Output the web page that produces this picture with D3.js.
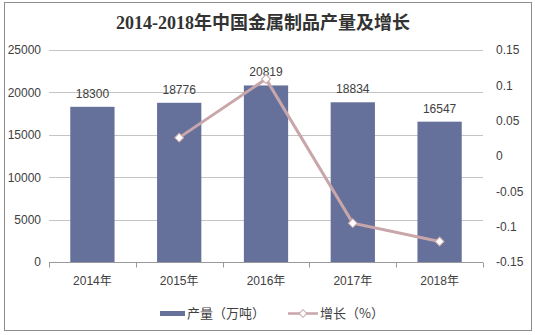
<!DOCTYPE html>
<html><head><meta charset="utf-8">
<script src="https://cdn.jsdelivr.net/npm/d3@7"></script>
<style>body{margin:0;background:#fff}svg{display:block}</style>
</head><body>
<svg id="c" width="535" height="335"></svg>
<script>
const categories = ["2014年","2015年","2016年","2017年","2018年"];
const production = [18300,18776,20819,18834,16547];
const growth = [null,0.026,0.109,-0.095,-0.121];
const leftTicks = [0,5000,10000,15000,20000,25000];
const rightTicks = [-0.15,-0.1,-0.05,0,0.05,0.1,0.15];
const title = "2014-2018年中国金属制品产量及增长";
const legendLabels = ["产量（万吨）","增长（%）"];

const svg = d3.select("#c");
const L=49,R=483,T=50,B=262;
const font = "'Liberation Sans', Arial, 'Noto Sans CJK SC', sans-serif";
const barColor="#65719b", lineColor="#c9a6aa", gridColor="#c4c4c4", txt="#404040";

svg.append("rect").attr("x",4.5).attr("y",2.5).attr("width",527).attr("height",328)
  .attr("fill","#fff").attr("stroke","#8c8c8c").attr("stroke-width",1);

svg.append("text").attr("x",263).attr("y",29).attr("text-anchor","middle")
  .attr("font-family","'Liberation Serif','DejaVu Serif','Noto Sans CJK SC',serif")
  .attr("font-weight","bold").attr("font-size",18).attr("fill","#333").text(title);

const x = d3.scaleBand().domain(categories).range([L,R]).paddingInner(0.49).paddingOuter(0.245);
const xb = d3.scaleBand().domain(categories).range([L,R]);
const y = d3.scaleLinear().domain([0,25000]).range([B,T]);
const y2 = d3.scaleLinear().domain([-0.15,0.15]).range([B,T]);

// grid
svg.append("g").selectAll("line").data(leftTicks.filter(d=>d>0)).join("line")
  .attr("x1",L).attr("x2",R).attr("y1",d=>Math.round(y(d))+0.5).attr("y2",d=>Math.round(y(d))+0.5)
  .attr("stroke",gridColor);

// left axis
const ga = svg.append("g").attr("transform",`translate(${L},0)`)
  .call(d3.axisLeft(y).tickValues(leftTicks).tickSize(0).tickPadding(8).tickFormat(d=>String(d)));
ga.select(".domain").remove();
ga.selectAll("text").attr("font-family",font).attr("font-size",12).attr("fill",txt);

// right axis
const gr = svg.append("g").attr("transform",`translate(${R},0)`)
  .call(d3.axisRight(y2).tickValues(rightTicks).tickSize(0).tickPadding(13).tickFormat(d=>String(+d.toFixed(2))));
gr.select(".domain").remove();
gr.selectAll("text").attr("font-family",font).attr("font-size",12).attr("fill",txt);

// bars
svg.append("g").selectAll("rect").data(production).join("rect")
  .attr("x",(d,i)=>x(categories[i])).attr("width",x.bandwidth())
  .attr("y",d=>y(d)).attr("height",d=>B-y(d)).attr("fill",barColor);

// x axis
const gx = svg.append("g").attr("transform",`translate(0,${B+0.5})`);
gx.append("line").attr("x1",L).attr("x2",R).attr("stroke","#999");
const bounds = categories.map(c=>xb(c)).concat([R]);
gx.selectAll("line.t").data(bounds).join("line").attr("class","t")
  .attr("x1",d=>Math.round(d)+0.5).attr("x2",d=>Math.round(d)+0.5).attr("y1",0).attr("y2",5).attr("stroke","#999");
gx.selectAll("text").data(categories).join("text")
  .attr("x",d=>xb(d)+xb.bandwidth()/2).attr("y",22).attr("text-anchor","middle")
  .attr("font-family",font).attr("font-size",12).attr("fill",txt).text(d=>d);

// bar labels
svg.append("g").selectAll("text").data(production).join("text")
  .attr("x",(d,i)=>xb(categories[i])+xb.bandwidth()/2).attr("y",d=>y(d)-9)
  .attr("text-anchor","middle").attr("font-family",font).attr("font-size",12).attr("fill",txt).text(d=>d);

// line
const pts = growth.map((g,i)=>({g,c:categories[i]})).filter(p=>p.g!==null);
const line = d3.line().x(p=>xb(p.c)+xb.bandwidth()/2).y(p=>y2(p.g));
svg.append("path").datum(pts).attr("d",line).attr("fill","none").attr("stroke",lineColor).attr("stroke-width",3);
svg.append("g").selectAll("path").data(pts).join("path")
  .attr("d",d3.symbol(d3.symbolSquare,40)())
  .attr("transform",p=>`translate(${xb(p.c)+xb.bandwidth()/2},${y2(p.g)}) rotate(45)`)
  .attr("fill","#fff").attr("stroke",lineColor).attr("stroke-width",1);

// legend
const lg = svg.append("g").attr("font-family","'Noto Sans CJK SC',sans-serif").attr("font-size",13).attr("fill",txt);
lg.append("rect").attr("x",160).attr("y",311).attr("width",25).attr("height",5).attr("fill",barColor);
lg.append("text").attr("x",187).attr("y",318).text(legendLabels[0]);
lg.append("line").attr("x1",288).attr("x2",318).attr("y1",313.5).attr("y2",313.5).attr("stroke",lineColor).attr("stroke-width",2.5);
lg.append("path").attr("d",d3.symbol(d3.symbolSquare,30)()).attr("transform","translate(303,313.5) rotate(45)")
  .attr("fill","#fff").attr("stroke",lineColor);
lg.append("text").attr("x",320).attr("y",318).text(legendLabels[1]);
</script>
</body></html>
